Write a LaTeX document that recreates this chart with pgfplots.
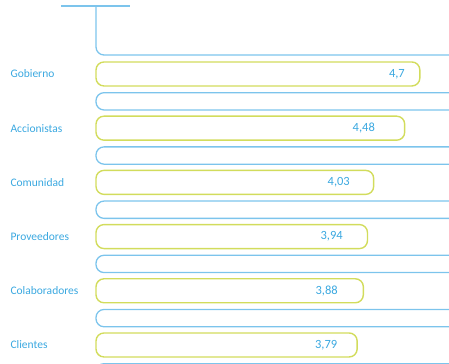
\documentclass[border=0pt]{standalone}
\usepackage{pgfplots}
\pgfplotsset{compat=1.18}
\usepackage{fontspec}
\setmainfont{Carlito}
\definecolor{txtblue}{HTML}{3AA8E0}
\definecolor{lineblue}{HTML}{7CC4EC}
\definecolor{ylw}{HTML}{D2DC5C}
\begin{document}
\begin{tikzpicture}
\begin{axis}[
  name=ax,
  scale only axis,
  width=353pt, height=364pt,
  xmin=0, xmax=5.123,
  ymin=-1.365, ymax=5.351,
  y dir=reverse,
  axis line style={draw=none},
  major tick length=0pt,
  clip=false,
  xtick=\empty,
  ytick={0,1,2,3,4,5},
  yticklabels={Gobierno,Accionistas,Comunidad,Proveedores,Colaboradores,Clientes},
  yticklabel style={anchor=west, xshift=-89pt, font=\fontsize{11.5}{13}\selectfont, text=txtblue},
]
% yellow bars
\addplot[xbar, bar width=0.443, bar shift=0pt, draw=ylw, line width=1.4pt, fill=none, rounded corners=8pt]
  coordinates {(4.70,0) (4.48,1) (4.03,2) (3.94,3) (3.88,4) (3.79,5)};
% value labels
\addplot[only marks, mark=none, nodes near coords, point meta=explicit symbolic,
  every node near coord/.style={anchor=center, text=txtblue, font=\fontsize{12.5}{14}\selectfont}]
  table[meta=lab] {
x y lab
4.367 0 4,7
3.886 1 4,48
3.523 2 4,03
3.420 3 3,94
3.348 4 3,88
3.341 5 3,79
};
% blue open bars
\addplot[draw=lineblue, line width=1.3pt, rounded corners=8pt] coordinates {(5.123,0.345) (0,0.345) (0,0.664) (5.123,0.664)};
\addplot[draw=lineblue, line width=1.3pt, rounded corners=8pt] coordinates {(5.123,1.345) (0,1.345) (0,1.664) (5.123,1.664)};
\addplot[draw=lineblue, line width=1.3pt, rounded corners=8pt] coordinates {(5.123,2.345) (0,2.345) (0,2.664) (5.123,2.664)};
\addplot[draw=lineblue, line width=1.3pt, rounded corners=8pt] coordinates {(5.123,3.345) (0,3.345) (0,3.664) (5.123,3.664)};
\addplot[draw=lineblue, line width=1.3pt, rounded corners=8pt] coordinates {(5.123,4.345) (0,4.345) (0,4.664) (5.123,4.664)};
\addplot[draw=lineblue, line width=1.3pt, rounded corners=8pt] coordinates {(5.123,5.345) (0,5.345) (0,5.664) (5.123,5.664)};
% top shape
\addplot[draw=lineblue, line width=1.3pt, rounded corners=8pt] coordinates {(5.123,-0.35) (0,-0.35) (0,-1.255)};
\addplot[draw=lineblue, line width=1.3pt] coordinates {(-0.508,-1.255) (0.494,-1.255)};
\end{axis}
\pgfresetboundingbox
\path (ax.south west) ++(-96pt,0) rectangle (ax.north east);
\end{tikzpicture}
\end{document}
